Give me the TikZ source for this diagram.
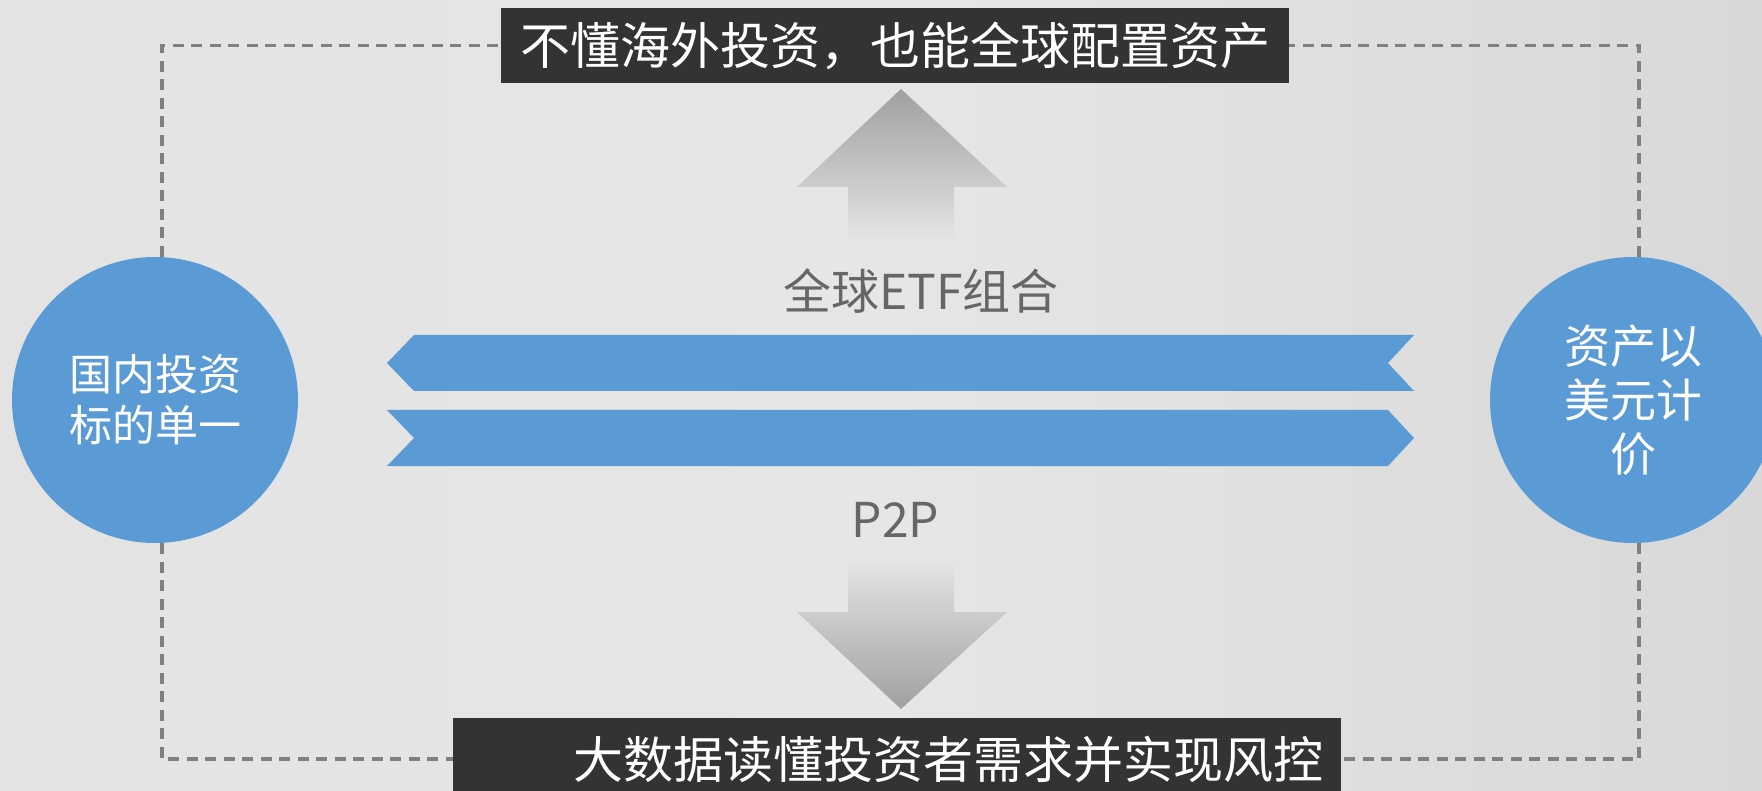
\documentclass[tikz,border=0pt]{standalone}
\usepackage{fontspec}
\setmainfont{Noto Sans CJK SC}
\definecolor{bgL}{HTML}{E3E3E3}
\definecolor{bgM}{HTML}{E6E6E6}
\definecolor{bgR}{HTML}{D8D8D8}
\definecolor{blueC}{HTML}{5B9BD5}
\definecolor{darkC}{HTML}{333333}
\definecolor{dashC}{HTML}{808080}
\definecolor{labC}{HTML}{666666}
\definecolor{arrD}{HTML}{A0A0A0}
\definecolor{arrM}{HTML}{C2C2C2}
\tikzset{
  circ/.style={circle, fill=blueC, minimum size=286pt, inner sep=0pt, text=white, align=center},
  darkbox/.style={rectangle, fill=darkC, inner sep=0pt, text=white},
  dashline/.style={draw=dashC, line width=3.3pt, dash pattern=on 11pt off 7.5pt},
  band/.style={fill=blueC},
  lab/.style={text=labC, font=\fontsize{48}{56}\selectfont}
}
\begin{document}
\begin{tikzpicture}[x=1pt,y=-1pt]
\useasboundingbox (0,0) rectangle (1762,791);
\clip (0,0) rectangle (1762,791);
\shade[left color=bgL, right color=bgR, middle color=bgM] (0,0) rectangle (1762,791);

% boxes
\node[darkbox, minimum width=788pt, minimum height=75pt, font=\fontsize{50}{56}\selectfont] (top) at (895,45.5) {不懂海外投资，也能全球配置资产};
\node[darkbox, minimum width=888pt, minimum height=82pt, font=\fontsize{50}{56}\selectfont] (bot) at (897,759) {\hspace*{102pt}大数据读懂投资者需求并实现风控};

% circles
\node[circ, font=\fontsize{43}{51}\selectfont] (lc) at (155,400) {国内投资\\标的单一};
\node[circ, font=\fontsize{46}{54}\selectfont] (rc) at (1633,400) {资产以\\美元计\\价};

% dashed connectors
\draw[dashline] ([xshift=7pt]lc.north) |- (top.west);
\draw[dashline] ([xshift=6pt]rc.north) |- (top.east);
\draw[dashline] ([xshift=7pt]lc.south) |- (bot.west);
\draw[dashline] ([xshift=6pt]rc.south) |- (bot.east);

% blue bands
\fill[band] (414,335) -- (1414,335) -- (1388,363) -- (1414,391) -- (414,391) -- (387,363) -- cycle;
\fill[band] (387,410) -- (1388,410) -- (1414,438) -- (1388,466) -- (387,466) -- (414,438) -- cycle;

% gray arrows
\shade[top color=arrD, middle color=arrM, bottom color=bgM]
  (901,89) -- (1007,187) -- (954,187) -- (954,243) -- (848,243) -- (848,187) -- (797,187) -- cycle;
\shade[top color=bgM, middle color=arrM, bottom color=arrD]
  (848,557) -- (954,557) -- (954,612) -- (1007,612) -- (901,709) -- (797,612) -- (848,612) -- cycle;

% labels
\node[lab, anchor=base] (etf) at (921,310) {全球ETF组合};
\node[lab, anchor=base] (p2p) at (895.5,537) {P2P};
\end{tikzpicture}
\end{document}
